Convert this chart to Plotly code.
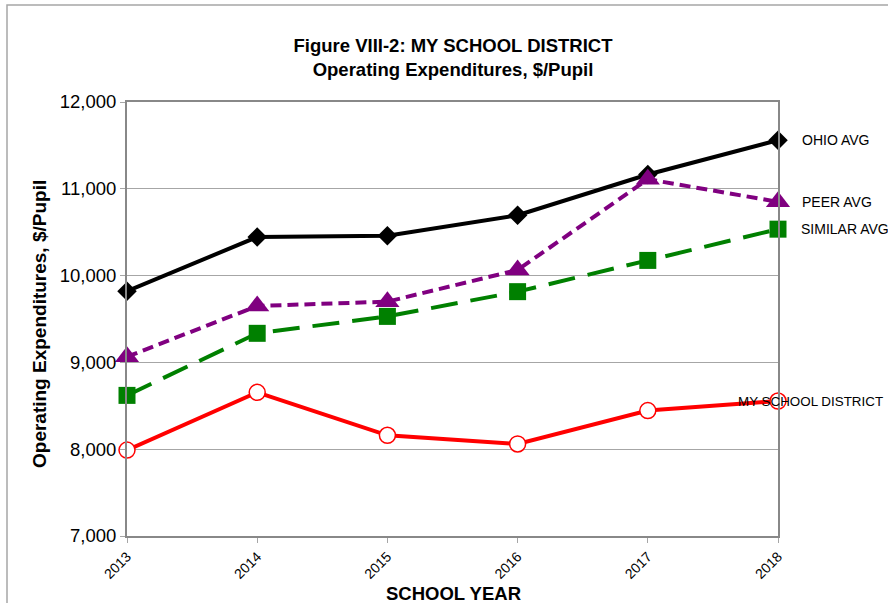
import plotly.graph_objects as go

years = [2013, 2014, 2015, 2016, 2017, 2018]
ohio_avg = [9820, 10445, 10460, 10695, 11165, 11560]
peer_avg = [9065, 9650, 9700, 10065, 11110, 10850]
similar_avg = [8620, 9335, 9530, 9815, 10175, 10535]
my_district = [7990, 8655, 8160, 8060, 8445, 8555]
series_names = ["OHIO AVG", "PEER AVG", "SIMILAR AVG", "MY SCHOOL DISTRICT"]
y_ticks = [7000, 8000, 9000, 10000, 11000, 12000]

FONT = "Liberation Sans, Arial, sans-serif"

fig = go.Figure()
fig.add_trace(go.Scatter(x=years, y=ohio_avg, mode="lines+markers", name=series_names[0],
                         line=dict(color="black", width=4),
                         marker=dict(symbol="diamond", size=15, color="black"),
                         cliponaxis=False))
fig.add_trace(go.Scatter(x=years, y=peer_avg, mode="lines+markers", name=series_names[1],
                         line=dict(color="#800080", width=4, dash="11px,6px"),
                         marker=dict(symbol="triangle-up", size=21, color="#800080"),
                         cliponaxis=False))
fig.add_trace(go.Scatter(x=years, y=similar_avg, mode="lines+markers", name=series_names[2],
                         line=dict(color="#008000", width=4, dash="27px,13px"),
                         marker=dict(symbol="square", size=17, color="#008000"),
                         cliponaxis=False))
fig.add_trace(go.Scatter(x=years, y=my_district, mode="lines+markers", name=series_names[3],
                         line=dict(color="#ff0000", width=4),
                         marker=dict(symbol="circle", size=16, color="white",
                                     line=dict(color="#ff0000", width=1.5)),
                         cliponaxis=False))

label_shift = [22, 22, 21, -42]
label_size = [14, 14, 14, 13.4]
label_y = [ohio_avg[-1], peer_avg[-1], similar_avg[-1], my_district[-1]]
for name, yv, xs, fs in zip(series_names, label_y, label_shift, label_size):
    fig.add_annotation(x=years[-1], y=yv, text=name, showarrow=False,
                       xanchor="left", xshift=xs, yanchor="middle",
                       font=dict(family=FONT, size=fs, color="black"))

# axis titles
fig.add_annotation(xref="paper", yref="paper", x=(453 - 127) / 651, y=(536 - 593) / 434,
                   text="<b>SCHOOL YEAR</b>", showarrow=False, xanchor="center", yanchor="middle",
                   font=dict(family=FONT, size=18.5, color="black"))
fig.add_annotation(xref="paper", yref="paper", x=(39 - 127) / 651, y=1 - (324 - 102) / 434,
                   text="<b>Operating Expenditures, $/Pupil</b>", showarrow=False, textangle=-90,
                   xanchor="center", yanchor="middle",
                   font=dict(family=FONT, size=19, color="black"))

fig.add_shape(type="rect", xref="paper", yref="paper",
              x0=(7 - 127) / 651, x1=(900 - 127) / 651,
              y0=(536 - 620) / 434, y1=1 + (102 - 5) / 434,
              line=dict(color="#a6a6a6", width=1.5), layer="below")

fig.update_layout(
    width=888, height=603,
    margin=dict(l=127, r=110, t=102, b=67),
    paper_bgcolor="white", plot_bgcolor="white",
    showlegend=False,
    title=dict(text="<b>Figure VIII-2: MY SCHOOL DISTRICT<br>Operating Expenditures, $/Pupil</b>",
               x=453 / 888, xanchor="center", y=1 - 52 / 603, yanchor="middle",
               font=dict(family=FONT, size=18.5, color="black")),
    font=dict(family=FONT, color="black"),
)
fig.update_xaxes(range=[2013, 2018], tickvals=years, ticktext=[str(y) for y in years],
                 tickangle=-45, tickfont=dict(family=FONT, size=14, color="black"),
                 showgrid=False, showline=True, linecolor="#888888", linewidth=2,
                 mirror=True, ticks="outside", ticklen=5, tickcolor="#a6a6a6",
                 zeroline=False, automargin=False)
fig.update_yaxes(range=[7000, 12000], tickvals=y_ticks, tickformat=",d",
                 tickfont=dict(family=FONT, size=18.5, color="black"),
                 showgrid=True, gridcolor="#a6a6a6", gridwidth=1,
                 showline=True, linecolor="#888888", linewidth=2, mirror=True,
                 ticks="outside", ticklen=5, tickcolor="#a6a6a6", zeroline=False,
                 automargin=False)

fig.write_html("out.html", config={"displayModeBar": False},
               post_script="document.body.style.margin='0';")
